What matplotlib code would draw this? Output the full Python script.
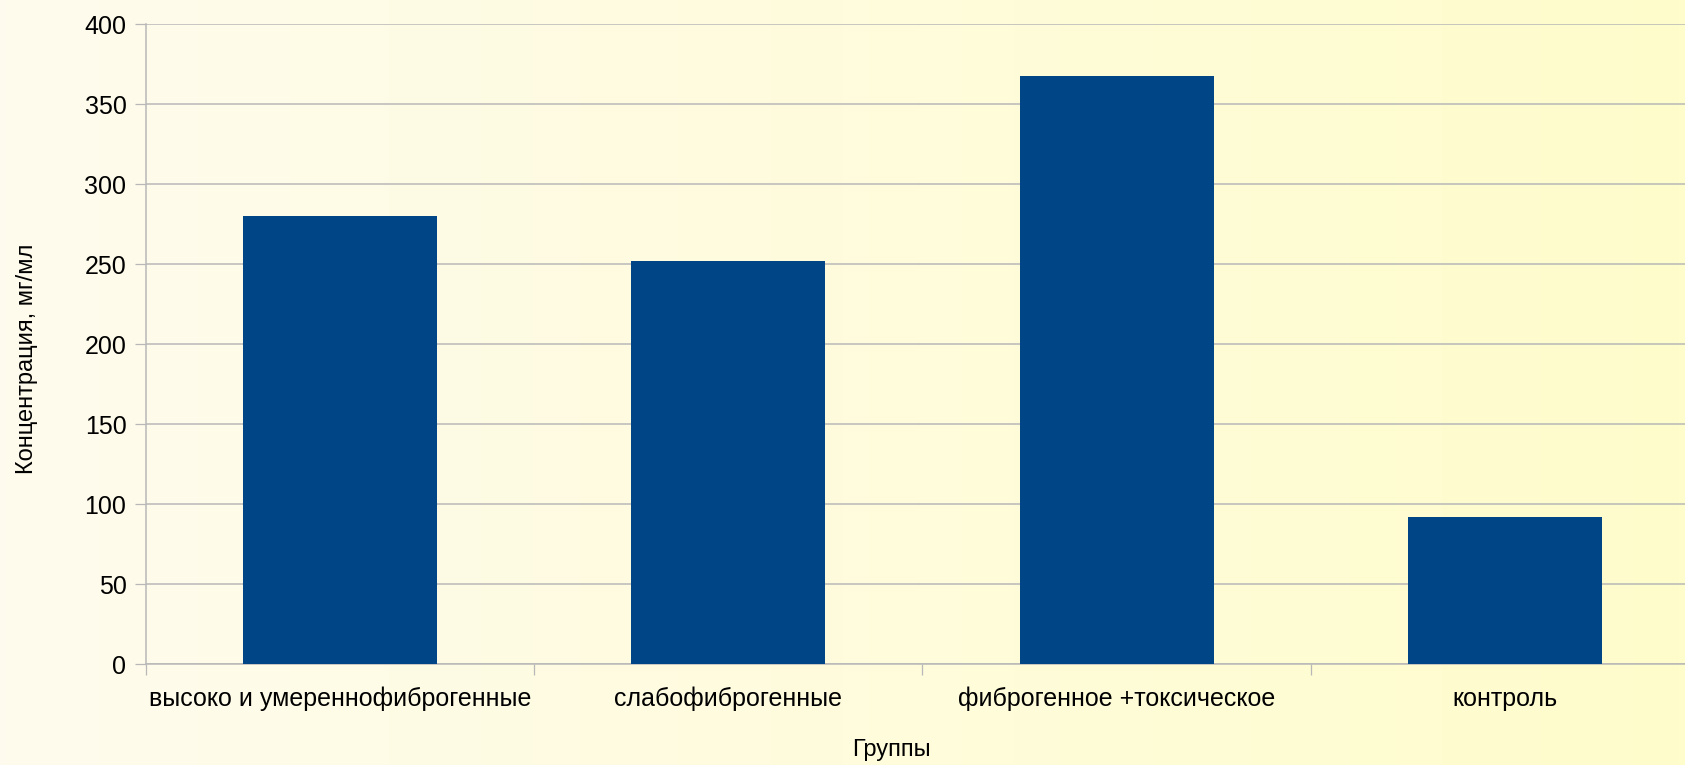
import numpy as np
import matplotlib
matplotlib.use('Agg')
import matplotlib.pyplot as plt
from matplotlib.colors import LinearSegmentedColormap

plt.rcParams['font.family'] = ['Liberation Sans', 'DejaVu Sans']

groups = ['высоко и умереннофиброгенные', 'слабофиброгенные',
          'фиброгенное +токсическое', 'контроль']
values = [280, 252, 368, 92]
y_ticks = [0, 50, 100, 150, 200, 250, 300, 350, 400]

grid_color = '#b8b8b8'
bar_color = '#004586'

fig = plt.figure(figsize=(16.85, 7.65), dpi=100)

# background gradient, pale cream on the left to light yellow on the right
bg = fig.add_axes([0, 0, 1, 1], zorder=-10)
cmap = LinearSegmentedColormap.from_list('bg', ['#fefbee', '#fffdcb'])
grad = np.linspace(0, 1, 512).reshape(1, -1)
bg.imshow(grad, aspect='auto', cmap=cmap, extent=[0, 1, 0, 1])
bg.set_axis_off()

ax = fig.add_axes([0.0866, 0.132, 0.9217, 0.836])
ax.set_facecolor('none')

x = np.arange(len(groups))
ax.bar(x, values, width=0.5, color=bar_color, zorder=3)

ax.set_xlim(-0.5, len(groups) - 0.5)
ax.set_ylim(0, 400)
ax.set_yticks(y_ticks)
ax.yaxis.grid(True, color=grid_color, linewidth=1.1, zorder=0)
ax.tick_params(axis='y', direction='out', length=8, width=0.9, color=grid_color,
               pad=6, labelsize=18, labelcolor='black')

ax.set_xticks(x)
ax.set_xticklabels(groups)
ax.set_xticks(np.arange(-0.5, len(groups), 1.0), minor=True)
ax.tick_params(axis='x', which='major', length=0, pad=16.5, labelsize=18)
ax.tick_params(axis='x', which='minor', direction='out', length=8, width=0.9,
               color=grid_color)

for side in ['top', 'right']:
    ax.spines[side].set_visible(False)
for side in ['left', 'bottom']:
    ax.spines[side].set_color(grid_color)
    ax.spines[side].set_linewidth(1.1)

fig.text(891 / 1685, 1 - 750 / 765, 'Группы', ha='center', va='center', fontsize=17)
fig.text(27 / 1685, 1 - 359 / 765, 'Концентрация, мг/мл', ha='center', va='center',
         rotation=90, fontsize=17)

fig.savefig('out.png', dpi=100)
